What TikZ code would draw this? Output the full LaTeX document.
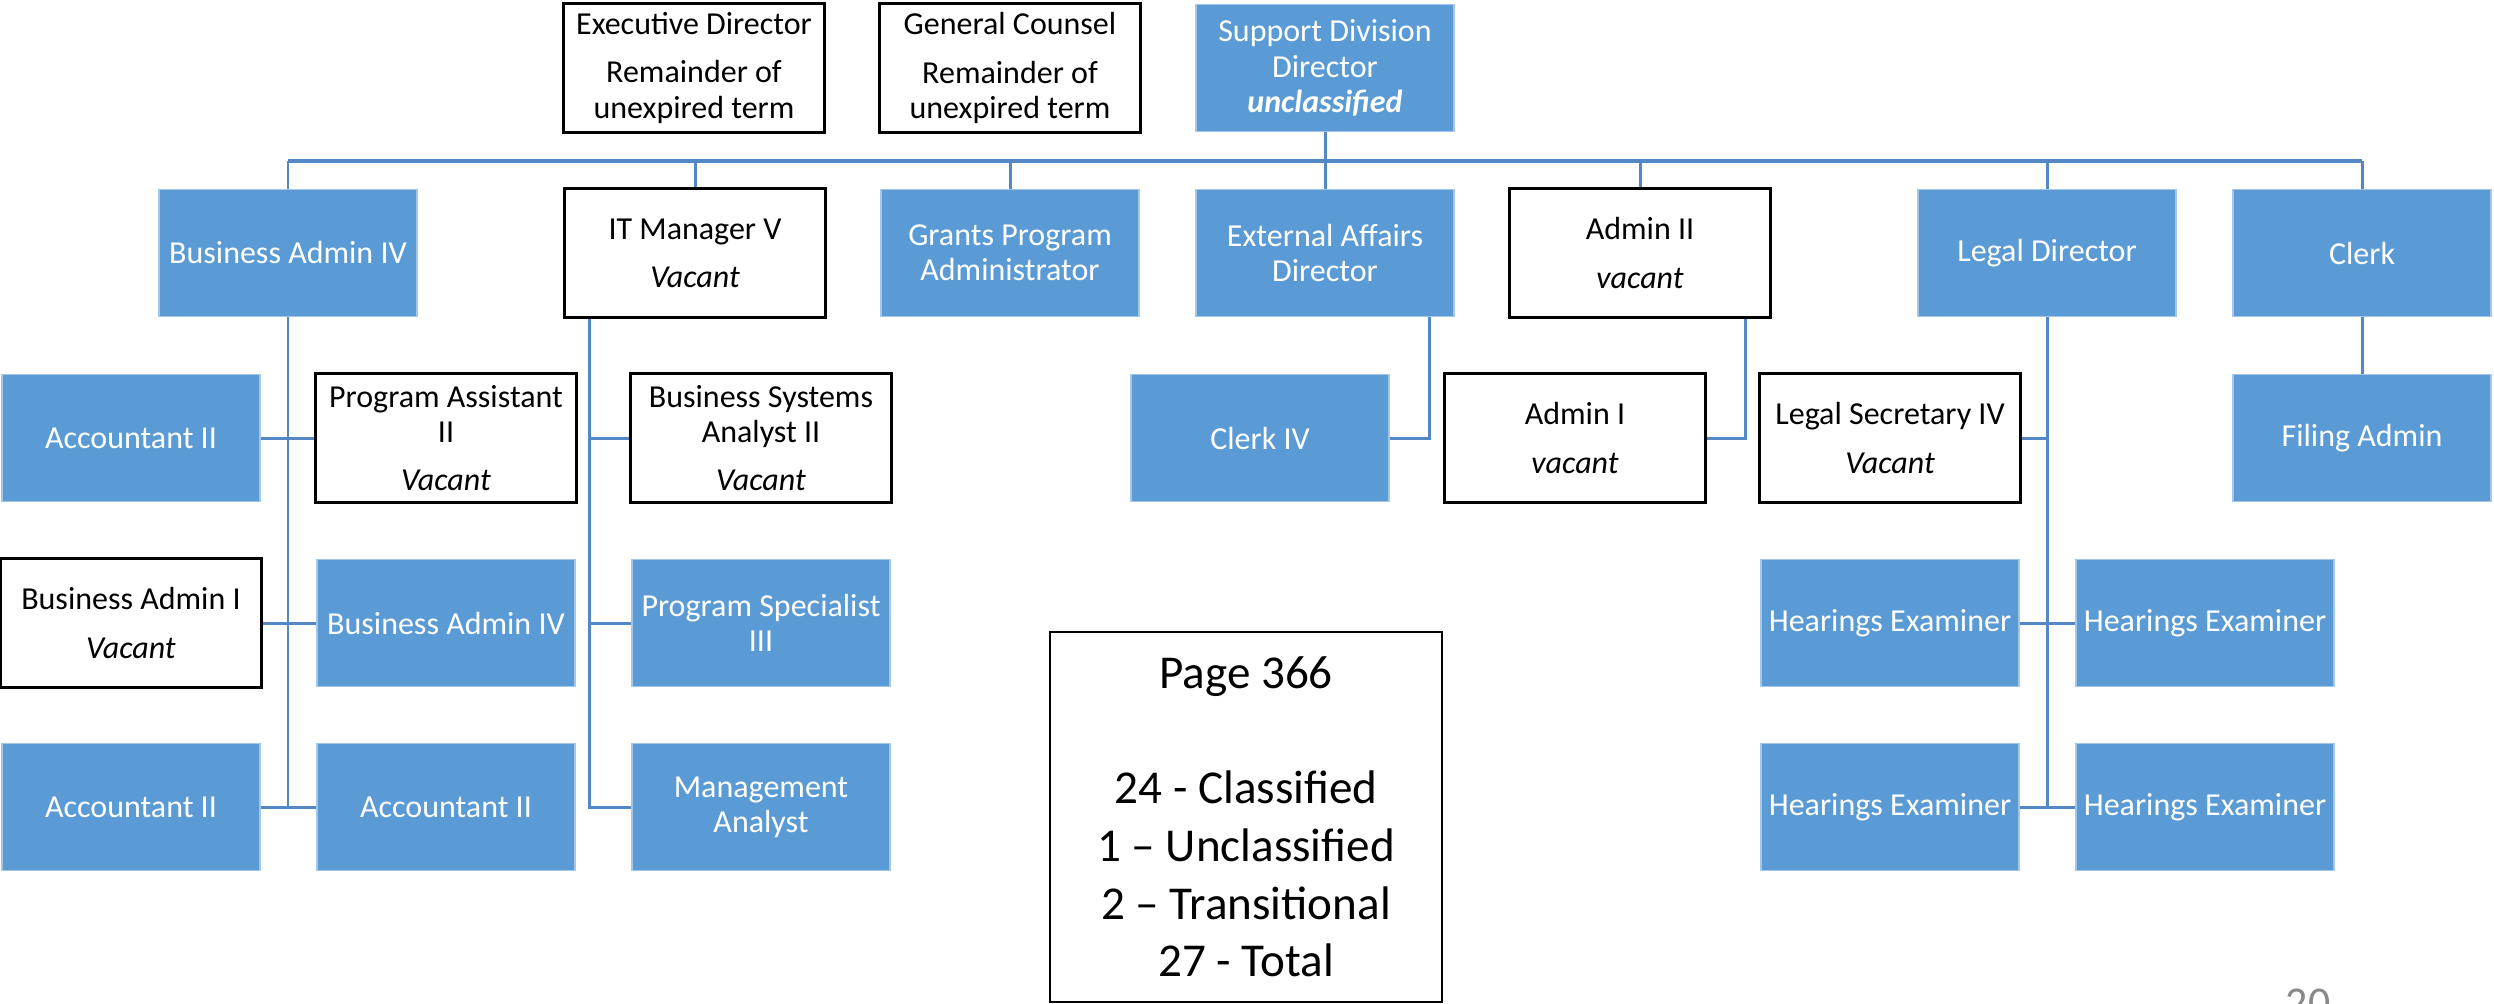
\documentclass[tikz,border=0pt]{standalone}
\usepackage{fontspec}
\setmainfont{Carlito}
\usepackage{xcolor}
\usepackage{tikz}
\usetikzlibrary{positioning}
\usetikzlibrary{calc}

\definecolor{BoxBlue}{RGB}{91,155,213}
\definecolor{LineBlue}{RGB}{84,136,196}
\definecolor{EdgeBlue}{RGB}{165,198,233}
\definecolor{SlideGray}{RGB}{137,137,137}

\begin{document}
\begin{tikzpicture}[x=0.01cm, y=-0.01cm,
	Post/.style={minimum width=2.58cm, minimum height=1.27cm, inner sep=0pt, align=center, font=\fontsize{9.1}{10}\selectfont},
	Filled/.style={Post, fill=BoxBlue, draw=EdgeBlue, line width=0.4pt, text=white},
	Open/.style={Post, fill=white, draw=black, line width=0.85pt, minimum width=2.6cm, minimum height=1.29cm},
	Link/.style={draw=LineBlue, line width=0.85pt},
	]
	\useasboundingbox (0,0) rectangle (2494,1003);
	
	% ---------------------
	% Top row
	\node[Open] (ExecDirector) at (694,68) {Executive Director\\[0.13cm]Remainder of\\unexpired term};
	\node[Open] (GeneralCounsel) at (1010,68) {General Counsel\\[0.13cm]Remainder of\\unexpired term};
	\node[Filled] (SupportDirector) at (1325,68) {Support Division\\Director\\\textbf{\textit{unclassified}}};
	
	% ---------------------
	% Division heads
	\node[Filled] (BusinessAdminTop) at (288,253) {Business Admin IV};
	\node[Open] (ITManager) at (695,253) {IT Manager V\\[0.13cm]\textit{Vacant}};
	\node[Filled] (GrantsAdmin) at (1010,253) {Grants Program\\Administrator};
	\node[Filled] (ExternalAffairs) at (1325,253) {External Affairs\\Director};
	\node[Open] (AdminTwo) at (1640,253) {Admin II\\[0.13cm]\textit{vacant}};
	\node[Filled] (LegalDirector) at (2047,253) {Legal Director};
	\node[Filled] (Clerk) at (2362,253) {Clerk};
	
	% ---------------------
	% Staff
	\node[Filled] (AccountantA) at (131,438) {Accountant II};
	\node[Open] (ProgramAssistant) at (446,438) {Program Assistant\\II\\[0.13cm]\textit{Vacant}};
	\node[Open] (SystemsAnalyst) at (761,438) {Business Systems\\Analyst II\\[0.13cm]\textit{Vacant}};
	\node[Filled] (ClerkFour) at (1260,438) {Clerk IV};
	\node[Open] (AdminOne) at (1575,438) {Admin I\\[0.13cm]\textit{vacant}};
	\node[Open] (LegalSecretary) at (1890,438) {Legal Secretary IV\\[0.13cm]\textit{Vacant}};
	\node[Filled] (FilingAdmin) at (2362,438) {Filing Admin};
	
	\node[Open] (BusinessAdminOne) at (131,623) {Business Admin I\\[0.13cm]\textit{Vacant}};
	\node[Filled] (BusinessAdminBottom) at (446,623) {Business Admin IV};
	\node[Filled] (ProgramSpecialist) at (761,623) {Program Specialist\\III};
	\node[Filled] (HearingsA) at (1890,623) {Hearings Examiner};
	\node[Filled] (HearingsB) at (2205,623) {Hearings Examiner};
	
	\node[Filled] (AccountantB) at (131,807) {Accountant II};
	\node[Filled] (AccountantC) at (446,807) {Accountant II};
	\node[Filled] (MgmtAnalyst) at (761,807) {Management\\Analyst};
	\node[Filled] (HearingsC) at (1890,807) {Hearings Examiner};
	\node[Filled] (HearingsD) at (2205,807) {Hearings Examiner};
	
	% ---------------------
	% Totals
	\node[draw=black, line width=0.6pt, minimum width=3.92cm, minimum height=3.69cm, align=center,
		font=\fontsize{13.4}{16.4}\selectfont] (Totals) at (1246,817)
		{Page 366\\[16.4pt]24 - Classified\\1 – Unclassified\\2 – Transitional\\27 - Total};
	\node[anchor=base, text=SlideGray, font=\fontsize{12.5}{15}\selectfont] (SlideNumber) at (2308,1017) {20};
	
	% ------------------------------------------------
	% Connectors
	\coordinate (Bus) at (0,161);
	\draw[Link] (SupportDirector.south) -- (SupportDirector.south |- Bus);
	\draw[Link, line width=1.1pt] (Bus -| BusinessAdminTop.north) -- (Bus -| Clerk.north);
	\foreach \n in {BusinessAdminTop, ITManager, GrantsAdmin, ExternalAffairs, AdminTwo, LegalDirector, Clerk}
		\draw[Link] (Bus -| \n.north) -- (\n.north);
	
	\draw[Link] (BusinessAdminTop.south) -- (BusinessAdminTop.south |- AccountantB.east);
	\draw[Link] (AccountantA.east) -- (ProgramAssistant.west);
	\draw[Link] (BusinessAdminOne.east) -- (BusinessAdminBottom.west);
	\draw[Link] (AccountantB.east) -- (AccountantC.west);
	
	\path (ITManager.south west) +(26,0) coordinate (ITDrop);
	\draw[Link] (ITDrop) |- (MgmtAnalyst.west);
	\draw[Link] (ITDrop |- SystemsAnalyst.west) -- (SystemsAnalyst.west);
	\draw[Link] (ITDrop |- ProgramSpecialist.west) -- (ProgramSpecialist.west);
	
	\path (ExternalAffairs.south east) +(-25,0) coordinate (ExternalDrop);
	\draw[Link] (ExternalDrop) |- (ClerkFour.east);
	\path (AdminTwo.south east) +(-26,0) coordinate (AdminDrop);
	\draw[Link] (AdminDrop) |- (AdminOne.east);
	
	\draw[Link] (LegalDirector.south) -- (LegalDirector.south |- HearingsC.east);
	\draw[Link] (LegalSecretary.east) -- (LegalSecretary.east -| LegalDirector.south);
	\draw[Link] (HearingsA.east) -- (HearingsB.west);
	\draw[Link] (HearingsC.east) -- (HearingsD.west);
	\draw[Link] (Clerk.south) -- (FilingAdmin.north);
	
\end{tikzpicture}
\end{document}
